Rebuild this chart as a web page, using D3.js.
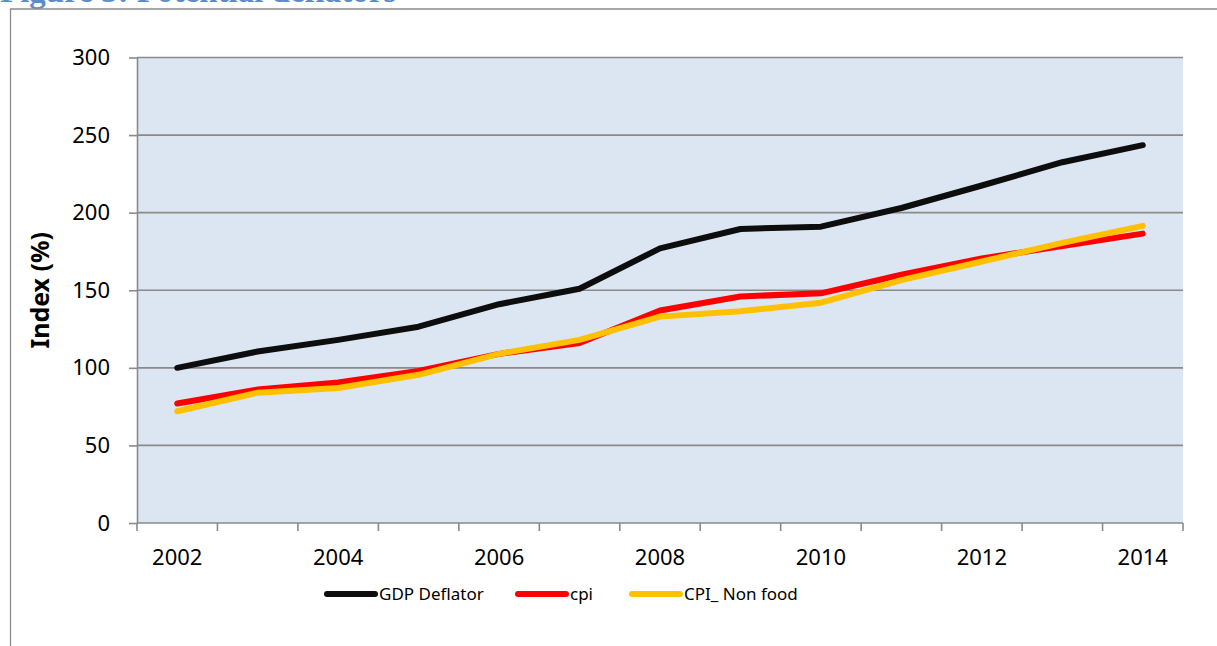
<!DOCTYPE html>
<html>
<head>
<meta charset="utf-8">
<script src="https://cdn.jsdelivr.net/npm/d3@7"></script>
<style>
  body { margin: 0; background: #fff; }
  svg { display: block; }
</style>
</head>
<body>
<script>
var width = 1217,
    height = 646;

// data
var years = [2002, 2003, 2004, 2005, 2006, 2007, 2008, 2009, 2010, 2011, 2012, 2013, 2014];
var gdpDeflator = [100, 110.5, 118, 126.5, 141, 151, 177, 189.5, 191, 203, 217.5, 232.5, 243.5];
var cpi = [77, 86, 90.5, 98, 109, 116, 137, 146, 148, 160, 170.5, 178.5, 186.5];
var cpiNonFood = [72, 84, 87, 95.5, 109, 118, 133, 136.5, 142, 156.5, 168.5, 180.5, 191.5];
var yTicks = [0, 50, 100, 150, 200, 250, 300];
var xLabels = [2002, 2004, 2006, 2008, 2010, 2012, 2014];

var series = [
  {name: "GDP Deflator", values: gdpDeflator, color: "#0d0d0d"},
  {name: "cpi", values: cpi, color: "#ff0000"},
  {name: "CPI_ Non food", values: cpiNonFood, color: "#ffc000"}
];

var margin = {left: 137, right: 34, top: 57.5, bottom: 123};
var font = "'Noto Sans', 'Open Sans', sans-serif";

var svg = d3.select("body").append("svg")
    .attr("width", width)
    .attr("height", height);

// title, cut off at the top of the page like in the source
svg.append("text")
    .attr("x", 0)
    .attr("y", 2)
    .attr("font-family", "'Liberation Serif', 'DejaVu Serif', serif")
    .attr("font-weight", "bold")
    .attr("font-size", 33)
    .attr("fill", "#5a8ccb")
    .text("Figure 3: Potential deflators");

// outer frame
svg.append("path")
    .attr("d", "M10.5," + height + "V9H" + width)
    .attr("fill", "none")
    .attr("stroke", "#8c8c8c")
    .attr("stroke-width", 1.3);

var x = d3.scaleBand()
    .domain(years)
    .range([margin.left, width - margin.right]);

var y = d3.scaleLinear()
    .domain([0, 300])
    .range([height - margin.bottom, margin.top]);

// plot area
svg.append("rect")
    .attr("x", x.range()[0])
    .attr("y", y(300))
    .attr("width", x.range()[1] - x.range()[0])
    .attr("height", y(0) - y(300))
    .attr("fill", "#dce6f2");

// gridlines
svg.append("g")
  .selectAll("line")
  .data(yTicks.filter(function(d) { return d > 0; }))
  .join("line")
    .attr("x1", x.range()[0])
    .attr("x2", x.range()[1])
    .attr("y1", function(d) { return y(d); })
    .attr("y2", function(d) { return y(d); })
    .attr("stroke", "#8a8a8a")
    .attr("stroke-width", 1.6);

// y axis
var yAxis = svg.append("g")
    .attr("transform", "translate(" + x.range()[0] + ",0)")
    .call(d3.axisLeft(y).tickValues(yTicks).tickSize(8).tickPadding(19).tickSizeOuter(0));
yAxis.select(".domain").attr("stroke", "#8a8a8a").attr("stroke-width", 1.6);
yAxis.selectAll(".tick line").attr("stroke", "#8a8a8a").attr("stroke-width", 1.6);
yAxis.selectAll(".tick text")
    .attr("font-family", font)
    .attr("font-size", 22)
    .attr("fill", "#000");

// x axis: ticks on band boundaries, labels every other year
var bounds = years.map(function(d) { return x(d); }).concat([x.range()[1]]);
var xAxis = svg.append("g");
xAxis.append("line")
    .attr("x1", x.range()[0])
    .attr("x2", x.range()[1])
    .attr("y1", y(0))
    .attr("y2", y(0))
    .attr("stroke", "#8a8a8a")
    .attr("stroke-width", 1.6);
xAxis.selectAll("line.tk")
  .data(bounds)
  .join("line")
    .attr("class", "tk")
    .attr("x1", function(d) { return d; })
    .attr("x2", function(d) { return d; })
    .attr("y1", y(0))
    .attr("y2", y(0) + 8)
    .attr("stroke", "#8a8a8a")
    .attr("stroke-width", 1.6);
xAxis.selectAll("text")
  .data(xLabels)
  .join("text")
    .attr("x", function(d) { return x(d) + x.bandwidth() / 2; })
    .attr("y", y(0) + 42)
    .attr("text-anchor", "middle")
    .attr("font-family", font)
    .attr("font-size", 22)
    .text(function(d) { return d; });

// y axis title
svg.append("text")
    .attr("transform", "translate(49," + ((y(0) + y(300)) / 2) + ") rotate(-90)")
    .attr("text-anchor", "middle")
    .attr("font-family", font)
    .attr("font-weight", "bold")
    .attr("font-size", 25)
    .text("Index (%)");

// lines
var line = d3.line()
    .x(function(d, i) { return x(years[i]) + x.bandwidth() / 2; })
    .y(function(d) { return y(d); });

svg.append("g")
  .selectAll("path")
  .data(series)
  .join("path")
    .attr("d", function(d) { return line(d.values); })
    .attr("fill", "none")
    .attr("stroke", function(d) { return d.color; })
    .attr("stroke-width", 6)
    .attr("stroke-linecap", "round")
    .attr("stroke-linejoin", "round");

// legend
var legendX = [327, 518, 632];
var legend = svg.append("g")
  .selectAll("g")
  .data(series)
  .join("g")
    .attr("transform", function(d, i) { return "translate(" + legendX[i] + ",594)"; });
legend.append("line")
    .attr("x1", 0)
    .attr("x2", 48)
    .attr("stroke", function(d) { return d.color; })
    .attr("stroke-width", 6)
    .attr("stroke-linecap", "round");
legend.append("text")
    .attr("x", 52)
    .attr("dy", "0.35em")
    .attr("font-family", font)
    .attr("font-size", 17)
    .text(function(d) { return d.name; });
</script>
</body>
</html>
